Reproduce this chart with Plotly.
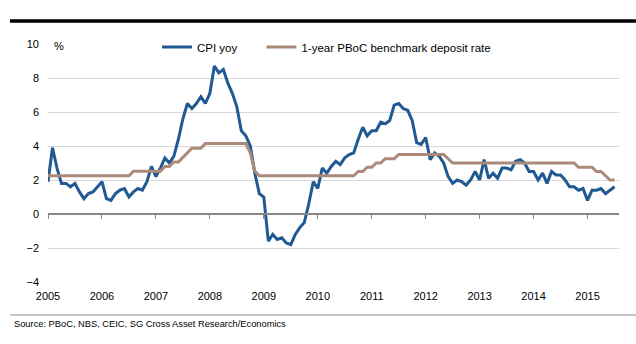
import plotly.graph_objects as go

years = ["2005", "2006", "2007", "2008", "2009", "2010", "2011", "2012", "2013", "2014", "2015"]

cpi_yoy = [
    # 2005
    1.9, 3.9, 2.7, 1.8, 1.8, 1.6, 1.8, 1.3, 0.9, 1.2, 1.3, 1.6,
    # 2006
    1.9, 0.9, 0.8, 1.2, 1.4, 1.5, 1.0, 1.3, 1.5, 1.4, 1.9, 2.8,
    # 2007
    2.2, 2.7, 3.3, 3.0, 3.4, 4.4, 5.6, 6.5, 6.2, 6.5, 6.9, 6.5,
    # 2008
    7.1, 8.7, 8.3, 8.5, 7.7, 7.1, 6.3, 4.9, 4.6, 4.0, 2.4, 1.2,
    # 2009
    1.0, -1.6, -1.2, -1.5, -1.4, -1.7, -1.8, -1.2, -0.8, -0.5, 0.6, 1.9,
    # 2010
    1.5, 2.7, 2.4, 2.8, 3.1, 2.9, 3.3, 3.5, 3.6, 4.4, 5.1, 4.6,
    # 2011
    4.9, 4.9, 5.4, 5.3, 5.5, 6.4, 6.5, 6.2, 6.1, 5.5, 4.2, 4.1,
    # 2012
    4.5, 3.2, 3.6, 3.4, 3.0, 2.2, 1.8, 2.0, 1.9, 1.7, 2.0, 2.5,
    # 2013
    2.0, 3.2, 2.1, 2.4, 2.1, 2.7, 2.7, 2.6, 3.1, 3.2, 3.0, 2.5,
    # 2014
    2.5, 2.0, 2.4, 1.8, 2.5, 2.3, 2.3, 2.0, 1.6, 1.6, 1.4, 1.5,
    # 2015
    0.8, 1.4, 1.4, 1.5, 1.2, 1.4, 1.6,
]

deposit_rate = [
    # 2005
    2.25, 2.25, 2.25, 2.25, 2.25, 2.25, 2.25, 2.25, 2.25, 2.25, 2.25, 2.25,
    # 2006
    2.25, 2.25, 2.25, 2.25, 2.25, 2.25, 2.25, 2.52, 2.52, 2.52, 2.52, 2.52,
    # 2007
    2.52, 2.52, 2.79, 2.79, 3.06, 3.06, 3.33, 3.60, 3.87, 3.87, 3.87, 4.14,
    # 2008
    4.14, 4.14, 4.14, 4.14, 4.14, 4.14, 4.14, 4.14, 4.14, 3.60, 2.52, 2.25,
    # 2009
    2.25, 2.25, 2.25, 2.25, 2.25, 2.25, 2.25, 2.25, 2.25, 2.25, 2.25, 2.25,
    # 2010
    2.25, 2.25, 2.25, 2.25, 2.25, 2.25, 2.25, 2.25, 2.25, 2.50, 2.50, 2.75,
    # 2011
    2.75, 3.00, 3.00, 3.25, 3.25, 3.25, 3.50, 3.50, 3.50, 3.50, 3.50, 3.50,
    # 2012
    3.50, 3.50, 3.50, 3.50, 3.50, 3.25, 3.00, 3.00, 3.00, 3.00, 3.00, 3.00,
    # 2013
    3.00, 3.00, 3.00, 3.00, 3.00, 3.00, 3.00, 3.00, 3.00, 3.00, 3.00, 3.00,
    # 2014
    3.00, 3.00, 3.00, 3.00, 3.00, 3.00, 3.00, 3.00, 3.00, 3.00, 2.75, 2.75,
    # 2015
    2.75, 2.75, 2.50, 2.50, 2.25, 2.00, 2.00,
]

months = list(range(len(cpi_yoy)))
year_ticks = [12 * i for i in range(len(years))]

BLUE = "#215a92"
BROWN = "#ab8a79"
FONT = "Liberation Sans, Arial, sans-serif"

fig = go.Figure()
fig.add_trace(go.Scatter(x=months, y=cpi_yoy, mode="lines",
                         name="CPI yoy" + "&nbsp;" * 6,
                         line=dict(color=BLUE, width=3)))
fig.add_trace(go.Scatter(x=months, y=deposit_rate, mode="lines",
                         name="1-year PBoC benchmark deposit rate",
                         line=dict(color=BROWN, width=3)))

W, H = 636, 344
L, R, T, B = 48, 17, 44, 62
pw, ph = W - L - R, H - T - B

def px_x(x):
    return (x - L) / pw

def px_y(y):
    return (H - B - y) / ph

fig.update_layout(
    width=W, height=H,
    margin=dict(l=L, r=R, t=T, b=B),
    paper_bgcolor="white", plot_bgcolor="white",
    font=dict(family=FONT, size=11, color="black"),
    showlegend=True,
    legend=dict(orientation="h", x=px_x(157), xanchor="left", y=px_y(47), yanchor="middle",
                bgcolor="rgba(0,0,0,0)", font=dict(size=11.5, color="black"),
                tracegroupgap=0),
    xaxis=dict(range=[0, 127], tickmode="array", tickvals=year_ticks, ticktext=years,
               showgrid=False, zeroline=False, showline=False, ticks="",
               ticklabelstandoff=6,
               tickfont=dict(size=11, color="black"), fixedrange=True),
    xaxis2=dict(range=[0, 127], overlaying="x", anchor="free", position=4 / 14,
                tickmode="array", tickvals=year_ticks, showticklabels=False,
                ticks="outside", ticklen=4, tickcolor="#888888", tickwidth=1,
                showline=True, linecolor="#888888", linewidth=1.5,
                showgrid=False, zeroline=False),
    yaxis=dict(range=[-4, 10], tickvals=[-4, -2, 0, 2, 4, 6, 8, 10],
               showgrid=True, gridcolor="#d9d9d9", gridwidth=1,
               zeroline=False, showline=False, ticks="", ticklabelstandoff=8,
               tickfont=dict(size=11, color="black")),
)

# invisible trace to activate xaxis2 (zero line with year ticks)
fig.add_trace(go.Scatter(x=[0], y=[0], xaxis="x2", mode="markers",
                         marker=dict(opacity=0), showlegend=False, hoverinfo="skip"))

fig.add_annotation(text="%", xref="paper", yref="paper", x=px_x(52), y=px_y(46),
                   xanchor="left", yanchor="middle", showarrow=False,
                   font=dict(size=11, color="black"))
fig.add_annotation(text="Source: PBoC, NBS, CEIC, SG Cross Asset Research/Economics",
                   xref="paper", yref="paper", x=px_x(12), y=px_y(324),
                   xanchor="left", yanchor="middle", showarrow=False,
                   font=dict(size=9.3, color="black", family="Liberation Sans, Arial, sans-serif"))
fig.add_shape(type="line", xref="paper", yref="paper", x0=px_x(10), x1=px_x(640),
              y0=px_y(21), y1=px_y(21), line=dict(color="black", width=3.5))
fig.add_shape(type="line", xref="paper", yref="paper", x0=px_x(10), x1=px_x(640),
              y0=px_y(315), y1=px_y(315), line=dict(color="#8c8c8c", width=1))

fig.write_html("out.html")
